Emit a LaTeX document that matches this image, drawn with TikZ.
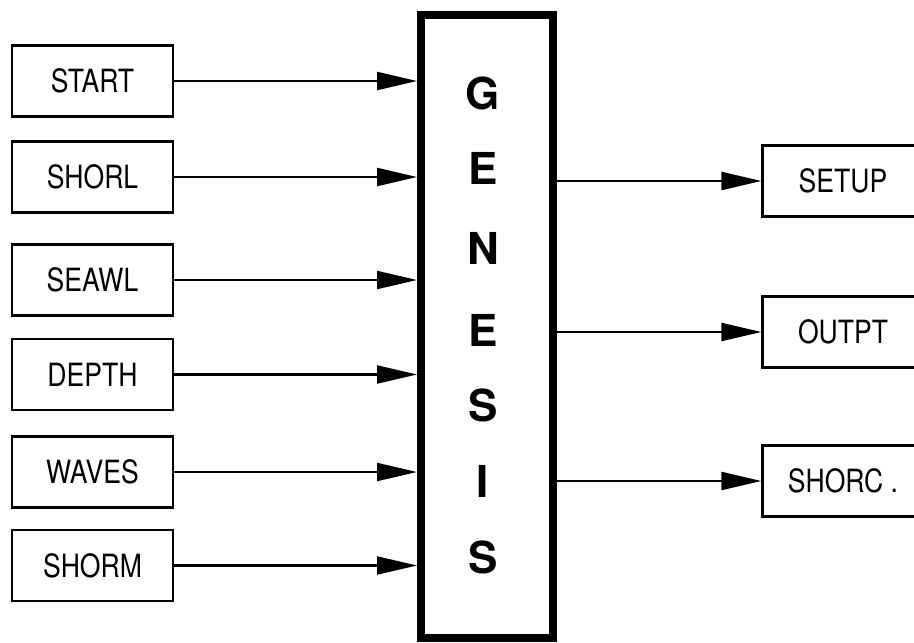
\documentclass[tikz,border=0pt]{standalone}
\usepackage{fontspec}
\setmainfont{TeX Gyre Heros}
\newfontfamily\labelfont[FakeStretch=0.83]{TeX Gyre Heros}
\usetikzlibrary{arrows.meta}
\begin{document}
\begin{tikzpicture}[x=1pt,y=-1pt,
  modbox/.style={draw,line width=2.2pt,minimum width=161pt,minimum height=71pt,inner sep=0pt,
    font=\labelfont\fontsize{32}{32}\selectfont},
  bigbox/.style={draw,line width=8pt,minimum width=132pt,minimum height=623pt,inner sep=0pt},
  letter/.style={font=\bfseries\fontsize{44}{44}\selectfont,inner sep=0pt},
  conn/.style={line width=2.2pt,-{Triangle[length=40pt,width=18pt]}}]
\clip (0,0) rectangle (914,643);
\fill[white] (0,0) rectangle (914,643);
% left modules
\node[modbox] (start) at (92.5,81) {START};
\node[modbox] (shorl) at (92.5,177) {SHORL};
\node[modbox] (seawl) at (92.5,280) {SEAWL};
\node[modbox] (depth) at (92.5,374.5) {DEPTH};
\node[modbox] (waves) at (92.5,472) {WAVES};
\node[modbox] (shorm) at (92.5,565.5) {SHORM};
% central box
\node[bigbox] (genesis) at (487,326.5) {};
\node[letter] (l1) at (483,93) {G};
\node[letter] (l2) at (483,168) {E};
\node[letter] (l3) at (483,248) {N};
\node[letter] (l4) at (483,330) {E};
\node[letter] (l5) at (483,405) {S};
\node[letter] (l6) at (483,481) {I};
\node[letter] (l7) at (483,557) {S};
% right modules
\node[modbox] (setup) at (843,181) {SETUP};
\node[modbox] (outpt) at (843,332) {OUTPT};
\node[modbox] (shorc) at (843,481) {SHORC .};
% connectors
\foreach \n in {start,shorl,seawl,depth,waves,shorm}
  \draw[conn] (\n.east) -- (genesis.west |- \n.east);
\foreach \n in {setup,outpt,shorc}
  \draw[conn] (genesis.east |- \n.west) -- (\n.west);
\end{tikzpicture}
\end{document}
